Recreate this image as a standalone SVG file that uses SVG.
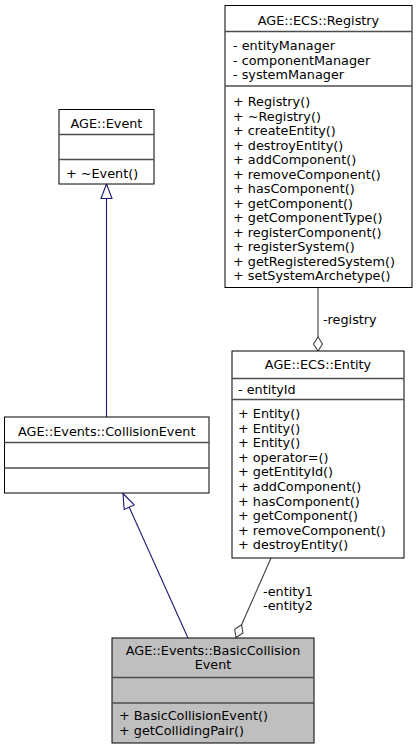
<svg xmlns="http://www.w3.org/2000/svg" width="417" height="749" viewBox="0 0 417 749">
<style>
text{font-family:"DejaVu Sans","Liberation Sans",sans-serif;font-size:12.8px;fill:#000}
.c{text-anchor:middle}
.box{fill:#fff;stroke:#000;stroke-width:1}
.hl{fill:#bfbfbf;stroke:#000;stroke-width:1}
.sep{stroke:#4d4d4d;stroke-width:1.3}
.inh{fill:none;stroke:#191970;stroke-width:1.1}
.inhh{fill:#fff;stroke:#191970;stroke-width:1.1}
.agg{fill:none;stroke:#404040;stroke-width:1.1}
.aggh{fill:#fff;stroke:#404040;stroke-width:1.1}
</style>
<rect width="417" height="749" fill="#fff"/>
<g id="connectors">
  <path class="inh" d="M106.5,417 V198.5"/>
  <polygon class="inhh" points="106.5,184 101,198.5 112,198.5"/>
  <path class="inh" d="M188,638 L129.2,507.2"/>
  <polygon class="inhh" points="123,493.5 134.2,504.9 124.2,509.5"/>
  <path class="agg" d="M318,287.5 V337"/>
  <polygon class="aggh" points="318,351 313.5,344 318,337 322.5,344"/>
  <text x="323" y="323.5">-registry</text>
  <path class="agg" d="M271,558 L241.6,624.7"/>
  <polygon class="aggh" points="236,637.5 234.7,629.3 241.6,624.7 242.9,632.9"/>
  <text x="288" y="596" class="c">-entity1</text>
  <text x="288" y="610" class="c">-entity2</text>
</g>
<g id="registry">
  <rect class="box" x="225" y="5.5" width="187" height="282"/>
  <line class="sep" x1="225" y1="31.5" x2="412" y2="31.5"/>
  <line class="sep" x1="225" y1="86" x2="412" y2="86"/>
  <text x="318.5" y="24.5" class="c">AGE::ECS::Registry</text>
  <text x="233" y="50">- entityManager</text>
  <text x="233" y="64.5">- componentManager</text>
  <text x="233" y="79">- systemManager</text>
  <text x="233" y="106">+ Registry()</text>
  <text x="233" y="120.5">+ ~Registry()</text>
  <text x="233" y="135">+ createEntity()</text>
  <text x="233" y="149.5">+ destroyEntity()</text>
  <text x="233" y="164">+ addComponent()</text>
  <text x="233" y="178.5">+ removeComponent()</text>
  <text x="233" y="193">+ hasComponent()</text>
  <text x="233" y="207.5">+ getComponent()</text>
  <text x="233" y="222">+ getComponentType()</text>
  <text x="233" y="236.5">+ registerComponent()</text>
  <text x="233" y="251">+ registerSystem()</text>
  <text x="233" y="265.5">+ getRegisteredSystem()</text>
  <text x="233" y="280">+ setSystemArchetype()</text>
</g>
<g id="event">
  <rect class="box" x="59" y="109.5" width="95" height="74.5"/>
  <line class="sep" x1="59" y1="134.5" x2="154" y2="134.5"/>
  <line class="sep" x1="59" y1="159.5" x2="154" y2="159.5"/>
  <text x="106.5" y="127.5" class="c">AGE::Event</text>
  <text x="66" y="177.5">+ ~Event()</text>
</g>
<g id="collisionevent">
  <rect class="box" x="4.5" y="417" width="204.5" height="76"/>
  <line class="sep" x1="4.5" y1="442.5" x2="209" y2="442.5"/>
  <line class="sep" x1="4.5" y1="468" x2="209" y2="468"/>
  <text x="106.75" y="435.5" class="c">AGE::Events::CollisionEvent</text>
</g>
<g id="entity">
  <rect class="box" x="232" y="351" width="172" height="207"/>
  <line class="sep" x1="232" y1="378.5" x2="404" y2="378.5"/>
  <line class="sep" x1="232" y1="399.5" x2="404" y2="399.5"/>
  <text x="318" y="369" class="c">AGE::ECS::Entity</text>
  <text x="238" y="394">- entityId</text>
  <text x="238" y="418">+ Entity()</text>
  <text x="238" y="432.6">+ Entity()</text>
  <text x="238" y="447.2">+ Entity()</text>
  <text x="238" y="461.8">+ operator=()</text>
  <text x="238" y="476.4">+ getEntityId()</text>
  <text x="238" y="491">+ addComponent()</text>
  <text x="238" y="505.6">+ hasComponent()</text>
  <text x="238" y="520.2">+ getComponent()</text>
  <text x="238" y="534.8">+ removeComponent()</text>
  <text x="238" y="549.4">+ destroyEntity()</text>
</g>
<g id="basiccollisionevent">
  <rect class="hl" x="112" y="638" width="202" height="105"/>
  <line class="sep" x1="112" y1="677.5" x2="314" y2="677.5"/>
  <line class="sep" x1="112" y1="703" x2="314" y2="703"/>
  <text x="213" y="654.5" class="c">AGE::Events::BasicCollision</text>
  <text x="213" y="669" class="c">Event</text>
  <text x="119" y="720">+ BasicCollisionEvent()</text>
  <text x="119" y="734.5">+ getCollidingPair()</text>
</g>
</svg>
